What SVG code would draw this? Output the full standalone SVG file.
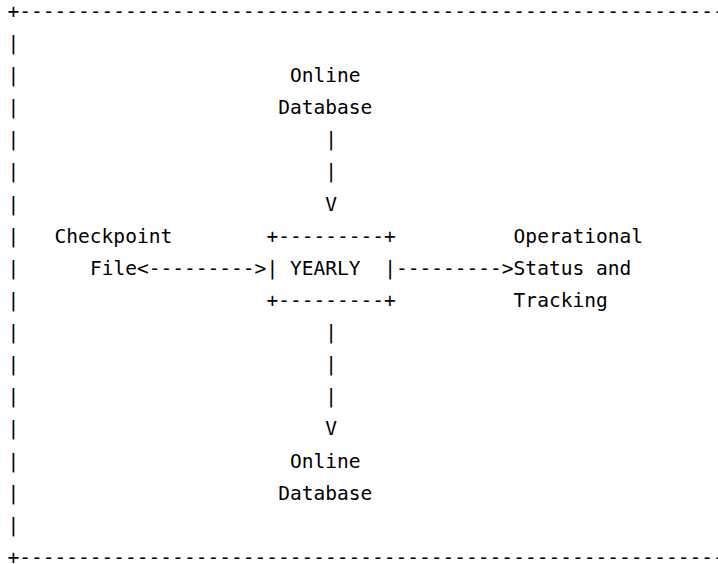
<svg xmlns="http://www.w3.org/2000/svg" width="718" height="564" viewBox="0 0 718 564">
  <style>
    /* monospace grid: cell width 11.77px, row pitch 32.12px */
    .t { font-family: "DejaVu Sans Mono", "Liberation Mono", monospace; font-size: 19.55px; fill: #000; }
  </style>
  <rect width="718" height="564" fill="#fff"/>

  <!-- outer frame -->
  <g id="frame" class="t">
    <text x="7.5" y="17.8">+------------------------------------------------------------</text>
    <text x="7.5" y="49.9">|</text>
    <text x="7.5" y="82.0">|</text>
    <text x="7.5" y="114.2">|</text>
    <text x="7.5" y="146.3">|</text>
    <text x="7.5" y="178.4">|</text>
    <text x="7.5" y="210.5">|</text>
    <text x="7.5" y="242.6">|</text>
    <text x="7.5" y="274.8">|</text>
    <text x="7.5" y="306.9">|</text>
    <text x="7.5" y="339.0">|</text>
    <text x="7.5" y="371.1">|</text>
    <text x="7.5" y="403.2">|</text>
    <text x="7.5" y="435.4">|</text>
    <text x="7.5" y="467.5">|</text>
    <text x="7.5" y="499.6">|</text>
    <text x="7.5" y="531.7">|</text>
    <text x="7.5" y="563.8">+------------------------------------------------------------</text>
  </g>

  <!-- source database -->
  <g id="online-db-top" class="t">
    <text x="289.98" y="82.0">Online</text>
    <text x="278.21" y="114.2">Database</text>
  </g>

  <!-- checkpoint file -->
  <g id="checkpoint-file" class="t">
    <text x="54.58" y="242.6">Checkpoint</text>
    <text x="89.89" y="274.8">File</text>
  </g>

  <!-- YEARLY process box (columns 22..32) -->
  <g id="yearly" class="t">
    <text x="266.44" y="242.6">+---------+</text>
    <text x="266.44" y="274.8">|</text>
    <text x="289.98" y="274.8">YEARLY</text>
    <text x="384.14" y="274.8">|</text>
    <text x="266.44" y="306.9">+---------+</text>
  </g>

  <!-- operational status output -->
  <g id="operational-status" class="t">
    <text x="513.61" y="242.6">Operational</text>
    <text x="513.61" y="274.8">Status and</text>
    <text x="513.61" y="306.9">Tracking</text>
  </g>

  <!-- target database -->
  <g id="online-db-bottom" class="t">
    <text x="289.98" y="467.5">Online</text>
    <text x="278.21" y="499.6">Database</text>
  </g>

  <!-- flows -->
  <g id="connectors" class="t">
    <text x="325.29" y="146.3">|</text>
    <text x="325.29" y="178.4">|</text>
    <text x="325.29" y="210.5">V</text>
    <text x="136.97" y="274.8">&lt;---------&gt;</text>
    <text x="395.91" y="274.8">---------&gt;</text>
    <text x="325.29" y="339.0">|</text>
    <text x="325.29" y="371.1">|</text>
    <text x="325.29" y="403.2">|</text>
    <text x="325.29" y="435.4">V</text>
  </g>
</svg>
